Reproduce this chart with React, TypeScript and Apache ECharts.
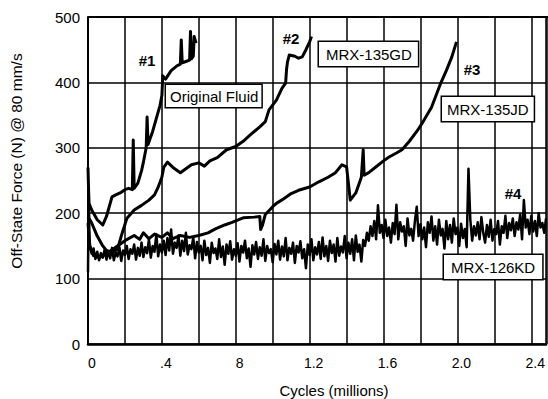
import React, { useEffect, useRef } from 'react';
import * as echarts from 'echarts';

// Tick labels of the x axis (cycles in millions), keyed by round(value*10)
const xTickLabels: Record<number, string> = { 0: '0', 4: '.4', 8: '8', 12: '1.2', 16: '1.6', 20: '2.0', 24: '2.4' };
const yTickValues = [0, 100, 200, 300, 400, 500];

// #1 Original Fluid  [cycles (millions), force (N)]
const originalFluid: [number, number][] = [
  [0, 270], [0.005, 215], [0.02, 205], [0.05, 190], [0.08, 182], [0.1, 195], [0.13, 225], [0.15, 228],
  [0.18, 232], [0.2, 236], [0.22, 238], [0.24, 236], [0.245, 312], [0.25, 238], [0.27, 246], [0.29, 265],
  [0.3, 278], [0.315, 300], [0.32, 347], [0.325, 305], [0.35, 325], [0.37, 345], [0.39, 365], [0.4, 380],
  [0.405, 410], [0.42, 405], [0.45, 418], [0.48, 425], [0.5, 428], [0.505, 465], [0.51, 430], [0.53, 432],
  [0.55, 434], [0.555, 478], [0.56, 436], [0.57, 440], [0.575, 470], [0.585, 460],
];

// #2 MRX-135GD
const mrx135GD: [number, number][] = [
  [0, 195], [0.02, 185], [0.05, 165], [0.08, 150], [0.1, 143], [0.13, 140], [0.16, 145], [0.18, 165],
  [0.21, 192], [0.25, 205], [0.29, 212], [0.33, 220], [0.36, 228], [0.38, 240], [0.4, 255], [0.41, 270],
  [0.43, 278], [0.46, 270], [0.5, 262], [0.53, 268], [0.56, 274], [0.6, 277], [0.63, 272], [0.66, 280],
  [0.7, 285], [0.75, 297], [0.8, 302], [0.84, 310], [0.88, 320], [0.93, 332], [0.96, 340], [0.98, 358],
  [1.02, 373], [1.05, 391], [1.07, 399], [1.075, 420], [1.08, 431], [1.09, 442], [1.12, 440], [1.14, 437],
  [1.16, 439], [1.18, 450], [1.2, 462], [1.21, 470],
];

// #3 MRX-135JD
const mrx135JD: [number, number][] = [
  [0, 185], [0.01, 150], [0.03, 135], [0.06, 132], [0.1, 138], [0.15, 148], [0.2, 158], [0.25, 166],
  [0.28, 160], [0.3, 170], [0.33, 161], [0.36, 168], [0.4, 163], [0.43, 170], [0.46, 161], [0.5, 166],
  [0.55, 163], [0.6, 166], [0.65, 170], [0.69, 176], [0.74, 182], [0.78, 186], [0.84, 193], [0.9, 194],
  [0.93, 195], [0.935, 175], [0.945, 182], [0.96, 198], [1.0, 210], [1.02, 215], [1.06, 222], [1.1, 230],
  [1.14, 235], [1.2, 240], [1.25, 248], [1.3, 255], [1.34, 262], [1.375, 274], [1.4, 271], [1.42, 220],
  [1.45, 231], [1.48, 255], [1.49, 297], [1.495, 258], [1.52, 262], [1.56, 271], [1.6, 280], [1.63, 286],
  [1.67, 292], [1.7, 297], [1.74, 310], [1.78, 325], [1.81, 338], [1.86, 362], [1.91, 399], [1.94, 418],
  [1.97, 439], [1.995, 462],
];

// #4 MRX-126KD: start transient, then readings every 0.01 million cycles from 0.01 to 2.48
const mrx126KDStart: [number, number][] = [[0, 110], [0.004, 235], [0.008, 160]];
const mrx126KDStep = 0.01;
const mrx126KD = [
  150, 138, 146, 130, 141, 128, 139, 132, 144, 129,
  142, 131, 147, 128, 140, 134, 148, 127, 143, 136,
  150, 130, 145, 138, 152, 129, 147, 135, 155, 133,
  148, 139, 160, 132, 150, 141, 168, 134, 152, 140,
  158, 136, 162, 143, 175, 138, 155, 147, 166, 135,
  158, 142, 170, 137, 151, 145, 163, 131, 156, 140,
  150, 128, 158, 136, 147, 124, 155, 139, 146, 130,
  160, 133, 149, 121, 152, 138, 157, 129, 145, 135,
  154, 126, 150, 140, 158, 131, 146, 118, 151, 137,
  156, 130, 148, 135, 160, 127, 150, 139, 145, 125,
  153, 137, 158, 129, 149, 134, 162, 128, 147, 138,
  155, 124, 150, 140, 157, 131, 145, 116, 152, 136,
  160, 128, 148, 137, 156, 130, 163, 134, 150, 127,
  158, 139, 152, 126, 162, 135, 149, 140, 165, 131,
  155, 138, 160, 128, 166, 141, 152, 126, 159, 150,
  170, 158, 180, 165, 188, 160, 212, 170, 182, 162,
  190, 165, 178, 155, 185, 168, 213, 160, 186, 172,
  180, 150, 192, 166, 176, 158, 188, 210, 165, 183,
  160, 178, 148, 186, 170, 195, 158, 180, 152, 190,
  166, 176, 146, 188, 160, 182, 155, 192, 168, 178,
  150, 184, 162, 176, 148, 268, 190, 158, 180, 166,
  186, 160, 194, 170, 155, 182, 164, 190, 158, 176,
  168, 188, 152, 180, 170, 196, 162, 185, 174, 192,
  165, 186, 175, 198, 160, 220, 178, 190, 168, 196,
  172, 188, 165, 200, 178, 185, 170, 192,
];

const FONT = '"Liberation Sans", Arial, Helvetica, sans-serif';

export default function App() {
  const ref = useRef<HTMLDivElement>(null);
  useEffect(() => {
    if (!ref.current) return;
    const chart = echarts.init(ref.current, null, { renderer: 'svg' });
    const kdData: [number, number][] = mrx126KDStart.concat(
      mrx126KD.map((v, i) => [Math.round((i + 1) * mrx126KDStep * 1000) / 1000, v] as [number, number])
    );
    const lineSeries = (name: string, data: [number, number][], w: number) => ({
      name,
      type: 'line',
      data,
      showSymbol: false,
      symbol: 'none',
      lineStyle: { color: '#000', width: w, join: 'round' },
      z: 5,
    });
    const boxStyle = (text: string, x: number, y: number, pad: number[]) => ({
      type: 'text',
      x,
      y,
      z: 100,
      style: {
        text,
        fill: '#000',
        font: `15px ${FONT}`,
        backgroundColor: '#fff',
        borderColor: '#000',
        borderWidth: 1.5,
        padding: pad,
        align: 'left',
        verticalAlign: 'top',
      },
    });
    const tag = (text: string, x: number, y: number) => ({
      type: 'text',
      x,
      y,
      z: 100,
      style: { text, fill: '#000', font: `bold 15px ${FONT}`, align: 'center', verticalAlign: 'middle' },
    });
    chart.setOption({
      animation: false,
      backgroundColor: '#fff',
      grid: { left: 88, top: 17, right: 1, bottom: 55, containLabel: false },
      xAxis: {
        type: 'value',
        min: 0,
        max: 2.48,
        interval: 0.2,
        axisLine: { show: true, lineStyle: { color: '#000', width: 2.5 } },
        axisTick: { show: false },
        splitLine: { show: true, lineStyle: { color: '#000', width: 1.5 } },
        axisLabel: {
          color: '#000',
          fontFamily: FONT,
          fontSize: 14,
          margin: 12,
          padding: [0, 0, 0, 8],
          showMaxLabel: false,
          formatter: (v: number) => xTickLabels[Math.round(v * 10)] ?? '',
        },
      },
      yAxis: {
        type: 'value',
        min: yTickValues[0],
        max: yTickValues[yTickValues.length - 1],
        interval: 100,
        axisLine: { show: true, lineStyle: { color: '#000', width: 2 } },
        axisTick: { show: false },
        splitLine: { show: true, lineStyle: { color: '#000', width: 1.5 } },
        axisLabel: { color: '#000', fontFamily: FONT, fontSize: 15, margin: 8 },
      },
      series: [
        lineSeries('MRX-126KD', kdData, 2.5),
        lineSeries('MRX-135JD', mrx135JD, 3),
        lineSeries('MRX-135GD', mrx135GD, 3),
        lineSeries('Original Fluid', originalFluid, 3),
      ],
      graphic: [
        {
          type: 'line',
          z: 50,
          shape: { x1: 88, y1: 17, x2: 548, y2: 17 },
          style: { stroke: '#000', lineWidth: 2 },
        },
        {
          type: 'line',
          z: 50,
          shape: { x1: 547, y1: 17, x2: 547, y2: 344 },
          style: { stroke: '#000', lineWidth: 1.5 },
        },
        boxStyle('Original Fluid', 166, 85, [4, 3, 3, 4]),
        boxStyle('MRX-135GD', 319, 42, [5, 6, 4, 7]),
        boxStyle('MRX-135JD', 442, 97, [5, 5, 4, 5]),
        boxStyle('MRX-126KD', 444, 255, [5, 7, 4, 7]),
        tag('#1', 147, 60),
        tag('#2', 291, 38),
        tag('#3', 472, 69),
        tag('#4', 513, 193),
        {
          type: 'text',
          x: 334,
          y: 390,
          style: { text: 'Cycles (millions)', fill: '#000', font: `15px ${FONT}`, align: 'center', verticalAlign: 'middle' },
        },
        {
          type: 'text',
          x: 16,
          y: 161,
          rotation: Math.PI / 2,
          style: {
            text: 'Off-State Force (N) @ 80 mm/s',
            fill: '#000',
            font: `15.5px ${FONT}`,
            align: 'center',
            verticalAlign: 'middle',
          },
        },
      ],
    });
    return () => chart.dispose();
  }, []);
  return <div ref={ref} style={{ width: 548, height: 399, position: 'absolute', left: 0, top: 0 }} />;
}
